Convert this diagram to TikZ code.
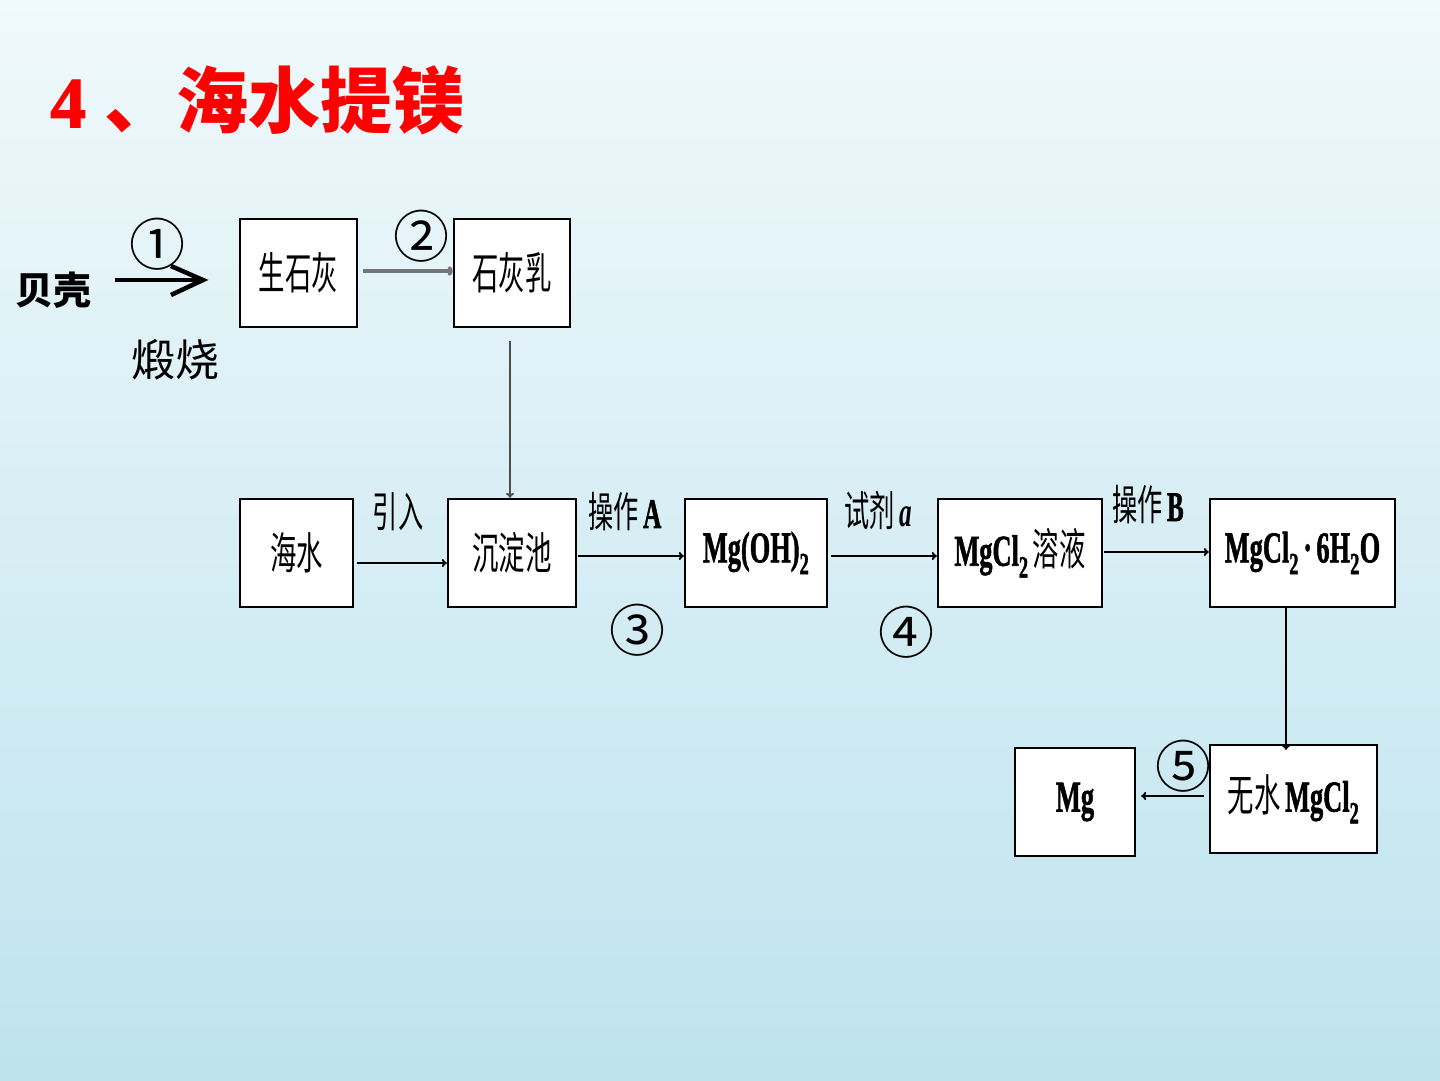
\documentclass[tikz,border=0pt]{standalone}
\usepackage{fontspec}
\usepackage{graphicx}
\setmainfont{Liberation Serif}
\newfontfamily\cjk{Noto Sans CJK SC}
\newfontfamily\heavy[FakeBold=1.6]{Liberation Serif Bold}
\usetikzlibrary{arrows.meta}
\definecolor{bgtop}{RGB}{240,249,251}
\definecolor{bgbot}{RGB}{190,227,238}
\definecolor{titlered}{RGB}{255,0,0}
\definecolor{arrgray}{RGB}{118,118,118}
\newcommand\cond[1]{\scalebox{0.6}[1]{#1}}
\begin{document}
\begin{tikzpicture}[x=1pt,y=-1pt,
  box/.style={draw=black,line width=2.4pt,fill=white,inner sep=0pt,minimum height=108pt},
  boxtext/.style={font=\fontsize{44}{44}\selectfont},
  arr/.style={-{To[length=5pt,width=8pt]},line width=2pt},
  garr/.style={-{To[length=5pt,width=9pt]},line width=4pt,draw=arrgray},
  vgarr/.style={-{To[length=5pt,width=8pt]},line width=2pt,draw=black!70},
  lab/.style={inner sep=0pt,font=\fontsize{42}{42}\selectfont},
  num/.style={inner sep=0pt,font=\cjk\fontsize{56}{56}\selectfont}]
\useasboundingbox (0,0) rectangle (1440,1080);
\shade[top color=bgtop,bottom color=bgbot] (0,0) rectangle (1440,1080);

% title
\node[anchor=west,inner sep=0pt,text=titlered,font=\fontsize{72}{72}\selectfont] (title) at (50,100) {{\heavy 4} {\cjk\bfseries 、海水提镁}};

% boxes
\node[box,boxtext,minimum width=117pt] (sheng) at (298.5,273) {\cond{\cjk 生石灰}};
\node[box,boxtext,minimum width=116pt] (shihui) at (512,273) {\cond{\cjk 石灰乳}};
\node[box,boxtext,minimum width=113pt] (hai) at (296.5,553) {\cond{\cjk 海水}};
\node[box,boxtext,minimum width=128pt] (chen) at (512,553) {\cond{\cjk 沉淀池}};
\node[box,boxtext,minimum width=142pt] (mgoh) at (756,553) {\cond{\heavy Mg(OH)\textsubscript{2}}};
\node[box,boxtext,minimum width=164pt] (mgcl) at (1020,553) {\cond{{\heavy MgCl\textsubscript{2}}\,{\cjk 溶液}}};
\node[box,boxtext,minimum width=185pt] (hyd) at (1302.5,553) {\cond{\heavy MgCl\textsubscript{2}\,·\,6H\textsubscript{2}O}};
\node[box,boxtext,minimum width=167pt] (anh) at (1293.5,799) {\cond{{\cjk 无水}\,{\heavy MgCl\textsubscript{2}}}};
\node[box,boxtext,minimum width=120pt] (mg) at (1075,802) {\cond{\heavy Mg}};

% shell
\node[inner sep=0pt,font=\cjk\bfseries\fontsize{38}{38}\selectfont] (bei) at (53,290) {贝壳};
\node[inner sep=0pt,font=\cjk\fontsize{44}{44}\selectfont] (duan) at (175,360) {煅烧};
\coordinate (s1) at (115,280);
\coordinate (e1) at (203,280);
\draw[line width=4.5pt] (s1) -- ([xshift=-6pt]e1);
\draw[line width=4.5pt,line join=miter] ([xshift=-32pt,yshift=14pt]e1) -- (e1) -- ([xshift=-32pt,yshift=-15pt]e1);
\node[num] (n1) at (157,244) {①};

% connectors
\draw[garr] ([xshift=5pt,yshift=2pt]sheng.east) -- ([yshift=2pt]shihui.west);
\node[num] (n2) at (421,236) {②};
\draw[vgarr] ([xshift=-2pt,yshift=-13pt]shihui.south) -- ([xshift=-2pt]chen.north);
\draw[arr] ([xshift=3pt,yshift=-10pt]hai.east) -- ([yshift=-10pt]chen.west);
\node[lab] (yinru) at (398,512) {\cond{\cjk 引入}};
\draw[arr] ([xshift=1pt,yshift=-3pt]chen.east) -- ([yshift=-3pt]mgoh.west);
\node[lab] (caoA) at (625,512) {\cond{{\cjk 操作}\,{\heavy A}}};
\node[num] (n3) at (637,630) {③};
\draw[arr] ([xshift=3pt,yshift=-3pt]mgoh.east) -- ([yshift=-3pt]mgcl.west);
\node[lab] (shiji) at (878,510) {\cond{{\cjk 试剂}\,\textbf{\textit{a}}}};
\node[num] (n4) at (906,632) {④};
\draw[arr] ([xshift=1pt,yshift=1pt]mgcl.east) -- ([yshift=1pt]hyd.west);
\node[lab] (caoB) at (1148,505) {\cond{{\cjk 操作}\,{\heavy B}}};
\draw[arr] ([xshift=-16.5pt]hyd.south) -- ([xshift=-16.5pt,yshift=-6pt]hyd.south |- anh.north);
\draw[arr] ([xshift=-5pt,yshift=3pt]anh.west) -- ([xshift=5pt,yshift=6pt]mg.east);
\node[num] (n5) at (1183,766) {⑤};
\end{tikzpicture}
\end{document}
